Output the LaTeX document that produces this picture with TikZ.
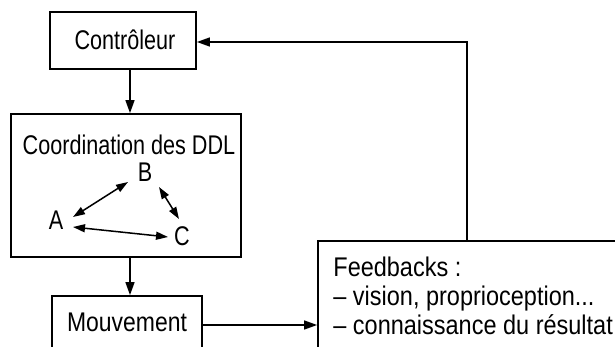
\documentclass[tikz,border=0pt]{standalone}
\usepackage{fontspec}
\setmainfont{Liberation Sans}[FakeStretch=0.80]
\usepackage{tikz}
\usetikzlibrary{arrows.meta,calc}

\tikzset{
  box/.style={draw,line width=0.9pt,rectangle,inner sep=0pt},
  lbl/.style={font=\fontsize{13.5}{14.3}\selectfont,inner sep=0pt},
  arr/.style={line width=0.75pt,-{Triangle[length=6.5pt,width=4.5pt]}},
  darr/.style={line width=0.75pt,{Triangle[length=6pt,width=4pt]}-{Triangle[length=6pt,width=4pt]}}
}

\begin{document}
\begin{tikzpicture}[x=0.5pt,y=-0.5pt]
  \useasboundingbox (0,0) rectangle (615,347);
  \clip (0,0) rectangle (615,347);
  % boxes
  \node[box,minimum width=73pt,minimum height=28.5pt] (ctrl) at (123,40.5) {};
  \node[lbl] (ctrlt) at (125,40) {Contrôleur};
  \node[box,minimum width=115pt,minimum height=71.5pt] (coord) at (126,185.5) {};
  \node[lbl] (ddl) at (129,145) {Coordination des DDL};
  \node[box,minimum width=75pt,minimum height=29pt] (mouv) at (127,325) {};
  \node[lbl,font=\fontsize{13.5}{14.3}\selectfont\addfontfeature{FakeStretch=0.85}] (mouvt) at (127,322) {Mouvement};
  \node[box,minimum width=161pt,minimum height=60pt] (fb) at (479,301) {};
  \node[lbl,font=\fontsize{13.5}{14.3}\selectfont\addfontfeature{FakeStretch=0.87},anchor=north west,align=left] (fbt) at (333,257)
    {Feedbacks :\\ -- vision, proprioception...\\ -- connaissance du résultat};
  % degres de liberte
  \node[lbl] (A) at (56,220) {A};
  \node[lbl] (B) at (145,172) {B};
  \node[lbl] (C) at (182,236) {C};
  \draw[darr] (73,217) -- (128,182);
  \draw[darr] (159,187) -- (179,219);
  \draw[darr] (73,227) -- (168,237);
  % liaisons
  \coordinate (fbtop) at (467,241);
  \draw[arr] (ctrl.south -| 130,0) -- (coord.north -| 130,0);
  \draw[arr] (coord.south -| 130,0) -- (mouv.north -| 130,0);
  \draw[arr] (mouv.east) -- (fb.west |- mouv.east);
  \draw[arr] (fbtop) |- ($(ctrl.east)+(0,1.5)$);
\end{tikzpicture}
\end{document}
